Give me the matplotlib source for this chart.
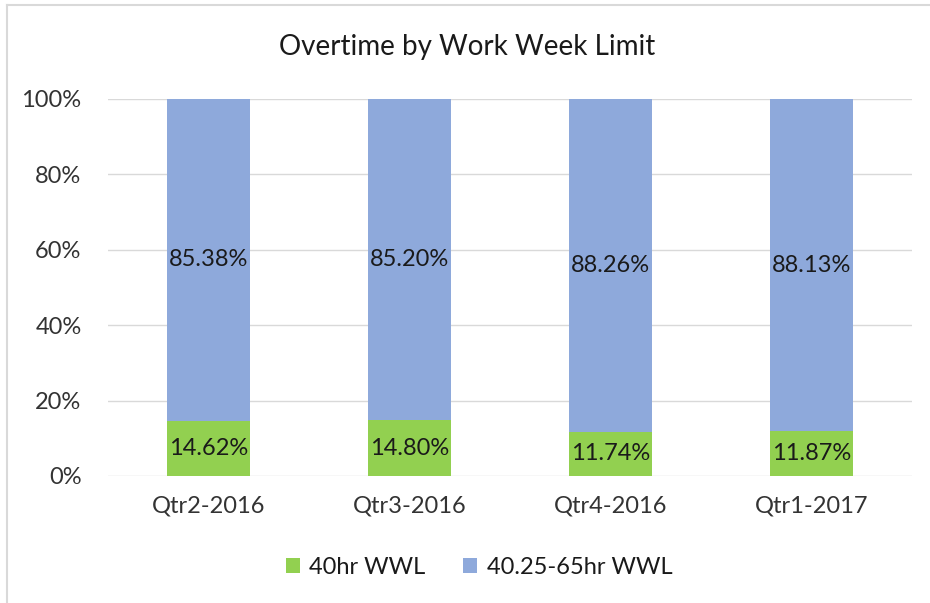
import matplotlib.pyplot as plt
import numpy as np
from matplotlib.lines import Line2D

plt.rcParams['font.family'] = ['Lato', 'DejaVu Sans']

quarters = ["Qtr2-2016", "Qtr3-2016", "Qtr4-2016", "Qtr1-2017"]
wwl_40 = [14.62, 14.80, 11.74, 11.87]
wwl_65 = [85.38, 85.20, 88.26, 88.13]
series_names = ["40hr WWL", "40.25-65hr WWL"]

GREEN = "#92D050"
BLUE = "#8EA9DB"

fig = plt.figure(figsize=(9.3, 6.03), dpi=100)
ax = fig.add_axes([108 / 930, 127 / 603, 804 / 930, 377 / 603])

x = np.arange(len(quarters))
b1 = ax.bar(x, wwl_40, width=0.41, color=GREEN, label=series_names[0], zorder=2)
b2 = ax.bar(x, wwl_65, width=0.41, bottom=wwl_40, color=BLUE, label=series_names[1], zorder=2)

for rects, vals in ((b1, wwl_40), (b2, wwl_65)):
    for r, v in zip(rects, vals):
        ax.text(r.get_x() + r.get_width() / 2, r.get_y() + r.get_height() / 2,
                f"{v:.2f}%", ha="center", va="center", fontsize=17, color="#1a1a1a", zorder=3)

ax.set_xlim(-0.5, len(quarters) - 0.5)
ax.set_ylim(0, 100)
ax.set_yticks(np.arange(0, 101, 20))
ax.set_yticklabels([f"{t}%" for t in range(0, 101, 20)])
ax.set_xticks(x)
ax.set_xticklabels(quarters)
ax.tick_params(axis="both", length=0, labelsize=17, colors="#333333")
ax.tick_params(axis="y", pad=19)
ax.tick_params(axis="x", pad=14)
ax.grid(axis="y", color="#d9d9d9", linewidth=1, zorder=0)
for s in ax.spines.values():
    s.set_visible(False)

fig.text(467 / 930, 1 - 47 / 603, "Overtime by Work Week Limit", ha="center", va="center",
         fontsize=20, color="#1a1a1a")

fig.legend(handles=[b1, b2], labels=series_names, loc="center", ncol=2,
           bbox_to_anchor=(479 / 930, 1 - 567 / 603), frameon=False, fontsize=17,
           handlelength=0.6, handleheight=0.6, columnspacing=1.6, handletextpad=0.4,
           labelcolor="#1a1a1a")

# chart area border (top and left visible)
fig.add_artist(Line2D([7 / 930, 1], [1 - 5 / 603, 1 - 5 / 603], color="#d9d9d9", linewidth=1.5))
fig.add_artist(Line2D([7 / 930, 7 / 930], [0, 1 - 5 / 603], color="#d9d9d9", linewidth=1.5))

fig.savefig("out.png", dpi=100)
